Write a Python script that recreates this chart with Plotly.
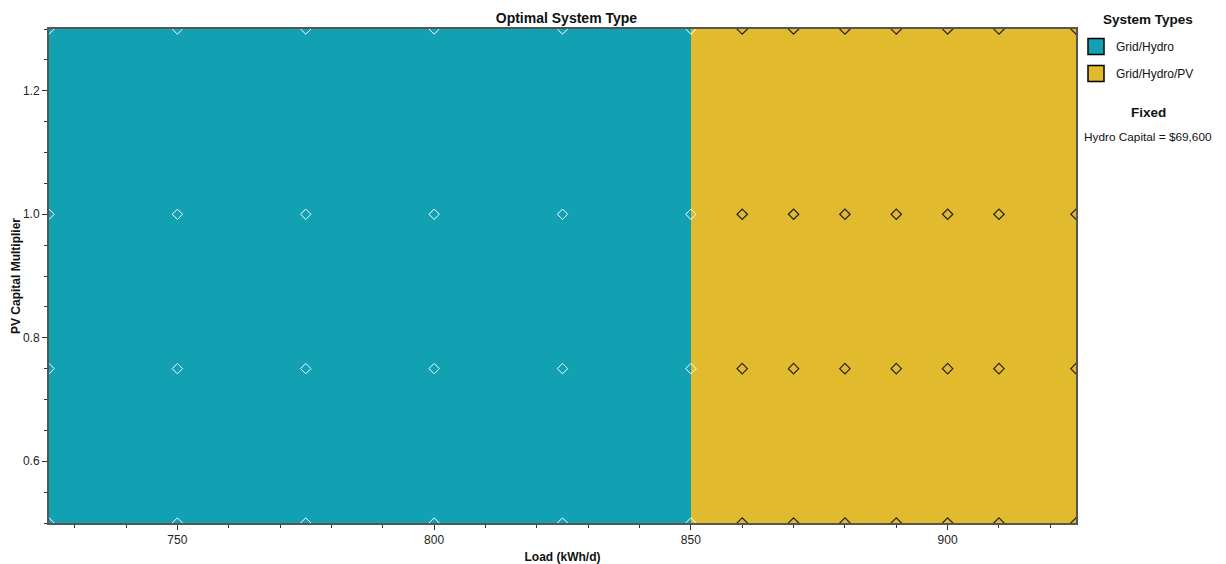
import plotly.graph_objects as go

# Region boundaries (Load kWh/d) and optimal system type per region
region_edges = [725, 850, 925]
region_types = ["Grid/Hydro", "Grid/Hydro/PV"]
y_edges = [0.5, 1.3]

# Sensitivity points
hydro_loads = [725, 750, 775, 800, 825, 850]
pv_loads = [860, 870, 880, 890, 900, 910, 925]
multipliers = [0.5, 0.75, 1.0, 1.3]

colors = {"Grid/Hydro": "#12A0B3", "Grid/Hydro/PV": "#E2BA2E"}
FONT = "Liberation Sans, Arial"

fig = go.Figure()

fig.add_trace(go.Heatmap(
    x=region_edges, y=y_edges, z=[[0, 1]],
    colorscale=[[0, colors["Grid/Hydro"]], [0.5, colors["Grid/Hydro"]],
                [0.5, colors["Grid/Hydro/PV"]], [1, colors["Grid/Hydro/PV"]]],
    zmin=0, zmax=1, showscale=False, hoverinfo="skip", showlegend=False,
))

hx, hy = [], []
for m in multipliers:
    for l in hydro_loads:
        hx.append(l); hy.append(m)
px_, py_ = [], []
for m in multipliers:
    for l in pv_loads:
        px_.append(l); py_.append(m)

fig.add_trace(go.Scatter(x=hx, y=hy, mode="markers", showlegend=False,
                         marker=dict(symbol="diamond-open", size=8, color="white", line=dict(width=1))))
fig.add_trace(go.Scatter(x=px_, y=py_, mode="markers", showlegend=False,
                         marker=dict(symbol="diamond-open", size=8, color="#222222", line=dict(width=1.2))))

for t in region_types:
    fig.add_trace(go.Scatter(x=[None], y=[None], mode="markers", name=t, legendgroup=t,
                             marker=dict(symbol="square", size=20, color=colors[t],
                                         line=dict(color="black", width=1.5))))

axis_common = dict(showline=True, linecolor="#555555", linewidth=2, mirror=True,
                   ticks="outside", ticklen=5, tickcolor="#333333", tickwidth=1,
                   showgrid=False, zeroline=False,
                   tickfont=dict(family=FONT, size=12, color="#222222"))

fig.update_layout(
    width=1218, height=556,
    margin=dict(l=41, r=150, t=21, b=41, autoexpand=False),
    paper_bgcolor="white", plot_bgcolor="white",
    title=dict(text="<b>Optimal System Type</b>", x=0.4585, xanchor="center", y=0.982, yanchor="middle",
               font=dict(family=FONT, size=14, color="#111111")),
    xaxis=dict(range=[725, 925], tickvals=[750, 800, 850, 900],
               minor=dict(dtick=10, tick0=720, ticks="outside", ticklen=3, tickcolor="#333333"),
               title=dict(text="<b>Load (kWh/d)</b>", standoff=7,
                          font=dict(family=FONT, size=12, color="#111111")),
               **axis_common),
    yaxis=dict(range=[0.5, 1.3], tickvals=[0.6, 0.8, 1.0, 1.2], tickformat=".1f",
               minor=dict(dtick=0.05, tick0=0.5, ticks="outside", ticklen=3, tickcolor="#333333"),
               title=dict(text="<b>PV Capital Multiplier</b>", standoff=0,
                          font=dict(family=FONT, size=12, color="#111111")),
               **axis_common),
    legend=dict(x=1.0, y=0.994, xanchor="left", yanchor="top",
                font=dict(family=FONT, size=12, color="#111111"),
                itemsizing="trace", tracegroupgap=8, bgcolor="rgba(0,0,0,0)"),
    annotations=[
        dict(text="<b>System Types</b>", xref="paper", yref="paper", x=1.0705, y=1.02, xanchor="center",
             yanchor="middle", showarrow=False,
             font=dict(family=FONT, size=13.5, color="#111111")),
        dict(text="<b>Fixed</b>", xref="paper", yref="paper", x=1.0705, y=0.83, xanchor="center",
             yanchor="middle", showarrow=False,
             font=dict(family=FONT, size=13.5, color="#111111")),
        dict(text="Hydro Capital = $69,600", xref="paper", yref="paper", x=1.0055, y=0.782, xanchor="left",
             yanchor="middle", showarrow=False,
             font=dict(family=FONT, size=11.8, color="#111111")),
    ],
)

fig.write_html("out.html")
